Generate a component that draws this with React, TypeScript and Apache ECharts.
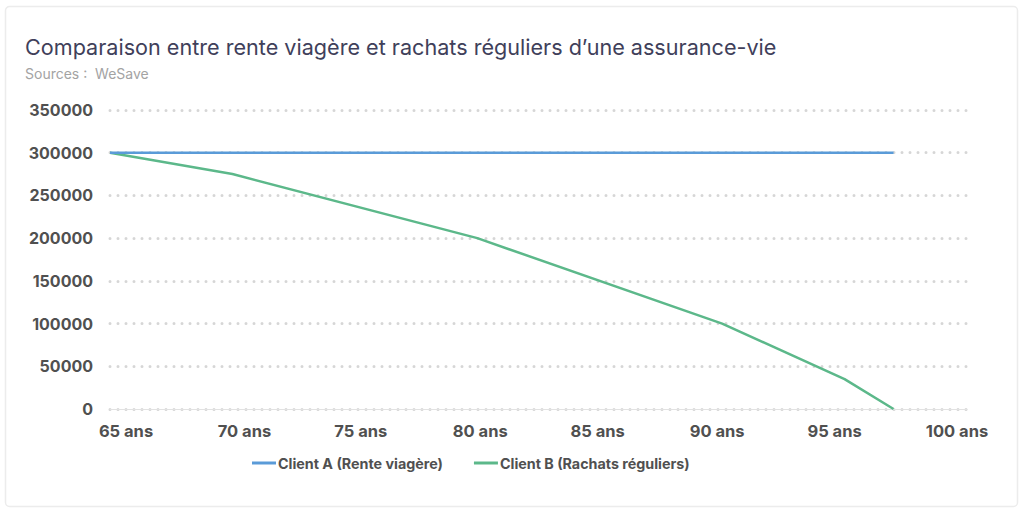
import React, { useEffect, useRef } from "react";
import * as echarts from "echarts";

const TITLE = "Comparaison entre rente viagère et rachats réguliers d’une assurance-vie";
const SUBTITLE = "Sources :  WeSave";
const SERIES_NAMES = ["Client A (Rente viagère)", "Client B (Rachats réguliers)"];
const AGES = [65, 70, 80, 90, 95, 97];
const CLIENT_A = [300000, 300000, 300000, 300000, 300000, 300000];
const CLIENT_B = [300000, 275000, 200000, 100000, 35000, 0];
const X_TICKS = [65, 70, 75, 80, 85, 90, 95, 100];
const X_SUFFIX = " ans";

// visual label nudges (px) to mimic the reference label placement
const LABEL_SHIFT = [16, 12, 6, 3, -2, -5, -10, -10];

const FONT = "Inter, 'Noto Sans', sans-serif";
const LABEL_COLOR = "#505050";

export default function App() {
  const ref = useRef<HTMLDivElement>(null);
  useEffect(() => {
    document.body.style.margin = "0";
    if (!ref.current) return;
    const chart = echarts.init(ref.current, undefined, { renderer: "svg" });
    const rich: Record<string, any> = {};
    X_TICKS.forEach((t, i) => {
      const s = LABEL_SHIFT[i];
      rich["l" + i] = {
        fontFamily: FONT,
        fontSize: 16.5,
        fontWeight: "bold",
        color: LABEL_COLOR,
        padding: s >= 0 ? [0, 0, 0, 2 * s] : [0, -2 * s, 0, 0],
      };
    });
    chart.setOption({
      animation: false,
      backgroundColor: "#ffffff",
      graphic: [
        {
          type: "rect",
          shape: { x: 5.5, y: 6.5, width: 1012, height: 500, r: 4 },
          style: { fill: "none", stroke: "#ececec", lineWidth: 1.5 },
          silent: true,
        },
      ],
      title: {
        text: TITLE,
        subtext: SUBTITLE,
        left: 20,
        top: 31,
        itemGap: 8,
        textStyle: { fontFamily: FONT, fontSize: 21.6, fontWeight: "normal", color: "#40405a" },
        subtextStyle: { fontFamily: FONT, fontSize: 14, color: "#a3a3a3" },
      },
      legend: {
        left: 247,
        top: 451,
        itemWidth: 24,
        itemHeight: 3,
        itemGap: 31,
        icon: "rect",
        textStyle: { fontFamily: FONT, fontSize: 14.3, fontWeight: "bold", color: LABEL_COLOR, padding: [0, 0, 0, -3] },
        data: SERIES_NAMES,
      },
      grid: { left: 110, right: 57, top: 110, bottom: 102, containLabel: false },
      xAxis: {
        type: "value",
        min: 65,
        max: 100,
        interval: 5,
        axisLine: { show: true, lineStyle: { color: "#e2e2e2", width: 1 } },
        axisTick: { show: false },
        splitLine: { show: false },
        axisLabel: {
          margin: 13,
          fontFamily: FONT,
          fontSize: 16.5,
          fontWeight: "bold",
          color: LABEL_COLOR,
          rich,
          formatter: (v: number) => {
            const i = X_TICKS.indexOf(v);
            return `{l${i}|${v}${X_SUFFIX}}`;
          },
        },
      },
      yAxis: {
        type: "value",
        min: 0,
        max: 350000,
        interval: 50000,
        axisLine: { show: false },
        axisTick: { show: false },
        axisLabel: {
          margin: 17,
          fontFamily: FONT,
          fontSize: 16,
          fontWeight: "bold",
          color: LABEL_COLOR,
          formatter: (v: number) => String(v),
        },
        splitLine: {
          show: true,
          lineStyle: { color: "#d6d6d6", width: 3, type: [0, 8], cap: "round" },
        },
      },
      series: [
        {
          name: SERIES_NAMES[0],
          type: "line",
          data: AGES.map((a, i) => [a, CLIENT_A[i]]),
          showSymbol: false,
          lineStyle: { color: "#5a9bd8", width: 2.5 },
          itemStyle: { color: "#5a9bd8" },
          z: 3,
        },
        {
          name: SERIES_NAMES[1],
          type: "line",
          data: AGES.map((a, i) => [a, CLIENT_B[i]]),
          showSymbol: false,
          lineStyle: { color: "#5cb88a", width: 2.5 },
          itemStyle: { color: "#5cb88a" },
          z: 2,
        },
      ],
    });
    return () => chart.dispose();
  }, []);
  return <div ref={ref} style={{ position: "fixed", left: 0, top: 0, width: 1024, height: 511 }} />;
}
